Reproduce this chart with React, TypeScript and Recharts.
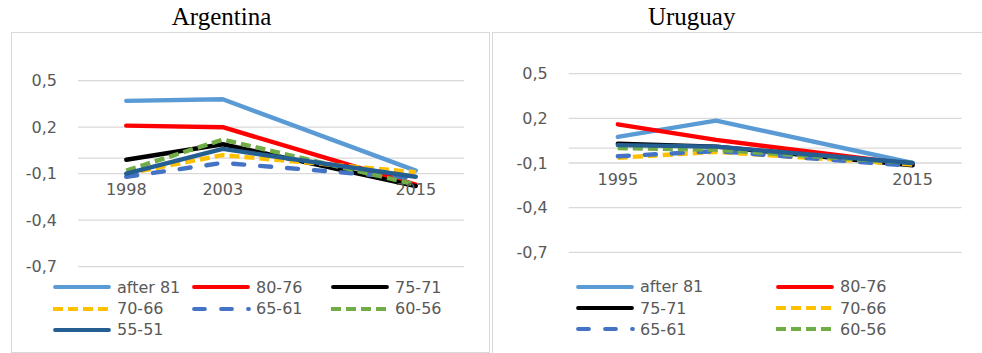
import React from "react";
import {
  LineChart,
  Line,
  XAxis,
  YAxis,
  CartesianGrid,
  ReferenceLine,
  Legend,
} from "recharts";

// Argentina: survey years, the blank slot keeps Excel's spacing between 2003 and 2015
const arYears = ["1998", "2003", "", "2015"];
const arAfter81 = [0.37, 0.38, null, -0.08];
const ar8076 = [0.21, 0.2, null, -0.17];
const ar7571 = [-0.01, 0.09, null, -0.18];
const ar7066 = [-0.1, 0.02, null, -0.09];
const ar6561 = [-0.12, -0.03, null, -0.13];
const ar6056 = [-0.08, 0.12, null, -0.17];
const ar5551 = [-0.1, 0.06, null, -0.12];

// Uruguay
const uyYears = ["1995", "2003", "", "2015"];
const uyAfter81 = [0.075, 0.185, null, -0.1];
const uy8076 = [0.16, 0.055, null, -0.11];
const uy7571 = [0.03, 0.01, null, -0.115];
const uy7066 = [-0.065, -0.025, null, -0.11];
const uy6561 = [-0.055, -0.02, null, -0.12];
const uy6056 = [0.0, -0.01, null, -0.1];
const uy5551 = [0.02, 0.01, null, -0.1];

const yTicks = [-0.7, -0.4, -0.1, 0.2, 0.5];

type SeriesStyle = {
  name: string;
  color: string;
  dash?: string;
  cap: "round" | "butt";
};

const SERIES: SeriesStyle[] = [
  { name: "after 81", color: "#5B9BD5", cap: "round" },
  { name: "80-76", color: "#FF0000", cap: "round" },
  { name: "75-71", color: "#000000", cap: "round" },
  { name: "70-66", color: "#FFC000", dash: "10 5", cap: "butt" },
  { name: "65-61", color: "#4472C4", dash: "11 16", cap: "round" },
  { name: "60-56", color: "#70AD47", dash: "10 5", cap: "butt" },
  { name: "55-51", color: "#255E91", cap: "round" },
];

const FONT = "'DejaVu Sans', sans-serif";
const TEXT_GRAY = "#595959";
const GRID = "#D9D9D9";

function buildRows(years: string[], cols: (number | null)[][]) {
  return years.map((year, i) => {
    const row: Record<string, string | number | null> = { year };
    SERIES.forEach((s, k) => {
      row[s.name] = cols[k][i];
    });
    return row;
  });
}

const arData = buildRows(arYears, [arAfter81, ar8076, ar7571, ar7066, ar6561, ar6056, ar5551]);
const uyData = buildRows(uyYears, [uyAfter81, uy8076, uy7571, uy7066, uy6561, uy6056, uy5551]);

const fmt = (v: number) => v.toFixed(1).replace(".", ",");

const seriesIndex = (name: string) => SERIES.findIndex((s) => s.name === name);

// year labels sit a fixed distance under the zero line, not at the bottom of the plot
function yearTick(plotH: number) {
  const lift = -(plotH * 0.7) / 1.2 + 36.5;
  return (props: any) => (
    <text
      x={props.x}
      y={props.y + lift}
      textAnchor="middle"
      fill={TEXT_GRAY}
      fontSize={16}
      fontFamily={FONT}
    >
      {props.payload.value}
    </text>
  );
}

function LegendGrid({ payload, colWidth, cols, hidden }: any) {
  const items = [...(payload || [])]
    .filter((e: any) => !(hidden || []).includes(e.value))
    .sort((a: any, b: any) => seriesIndex(a.value) - seriesIndex(b.value));
  return (
    <div
      style={{
        display: "grid",
        gridTemplateColumns: `repeat(${cols}, ${colWidth}px)`,
        fontFamily: FONT,
        fontSize: 16,
        color: TEXT_GRAY,
      }}
    >
      {items.map((entry: any) => {
        const s = SERIES[seriesIndex(entry.value)] || SERIES[0];
        const inset = s.cap === "round" ? 2 : 0;
        return (
          <div
            key={entry.value}
            style={{ display: "flex", alignItems: "center", height: 21.35 }}
          >
            <svg width={58} height={8} style={{ overflow: "visible" }}>
              <line
                x1={inset}
                x2={s.dash && s.cap === "round" ? 57 : 58 - inset}
                y1={4}
                y2={4}
                stroke={s.color}
                strokeWidth={3.8}
                strokeDasharray={s.dash}
                strokeLinecap={s.cap}
              />
            </svg>
            <span style={{ marginLeft: 6, lineHeight: "21px", whiteSpace: "nowrap" }}>
              {entry.value}
            </span>
          </div>
        );
      })}
    </div>
  );
}

type PanelProps = {
  data: Record<string, string | number | null>[];
  width: number;
  height: number;
  yAxisWidth: number;
  top: number;
  right: number;
  plotH: number;
  plotW: number;
  legendLeft: number;
  legendTop: number;
  legendCol: number;
  legendCols: number;
  hidden?: string[];
};

function Panel(p: PanelProps) {
  const bottom = p.height - p.top - p.plotH - 30;
  const pad = p.plotW / 8;
  return (
    <LineChart
      width={p.width}
      height={p.height}
      data={p.data}
      margin={{ top: p.top, right: p.right, bottom, left: 0 }}
    >
      <CartesianGrid stroke={GRID} strokeWidth={1.3} vertical={false} />
      <ReferenceLine y={0} stroke={GRID} strokeWidth={1.3} />
      <XAxis
        dataKey="year"
        height={30}
        axisLine={false}
        tickLine={false}
        tickSize={0}
        tickMargin={0}
        interval={0}
        padding={{ left: pad, right: pad }}
        tick={yearTick(p.plotH)}
      />
      <YAxis
        width={p.yAxisWidth}
        domain={[-0.7, 0.5]}
        ticks={yTicks}
        axisLine={false}
        tickLine={false}
        tickSize={0}
        tickMargin={21}
        tickFormatter={fmt}
        tick={{ fill: TEXT_GRAY, fontSize: 16, fontFamily: FONT }}
      />
      <Legend
        layout="horizontal"
        verticalAlign="middle"
        align="center"
        wrapperStyle={{
          left: p.legendLeft,
          top: p.legendTop,
          width: p.legendCol * p.legendCols,
        }}
        content={(props: any) => (
          <LegendGrid
            payload={props.payload}
            colWidth={p.legendCol}
            cols={p.legendCols}
            hidden={p.hidden}
          />
        )}
      />
      {SERIES.map((s) => (
        <Line
          key={s.name}
          type="linear"
          dataKey={s.name}
          stroke={s.color}
          strokeWidth={4.4}
          strokeDasharray={s.dash}
          strokeLinecap={s.cap}
          strokeLinejoin="round"
          dot={false}
          activeDot={false}
          connectNulls
          isAnimationActive={false}
        />
      ))}
    </LineChart>
  );
}

const titleStyle: React.CSSProperties = {
  position: "absolute",
  top: 4,
  width: 200,
  textAlign: "center",
  fontFamily: "'Liberation Serif', serif",
  fontSize: 25,
  lineHeight: "25px",
  color: "#000",
};

export default function App() {
  return (
    <div
      style={{
        position: "absolute",
        left: 0,
        top: 0,
        width: 982,
        height: 353,
        overflow: "hidden",
        background: "#fff",
      }}
    >
      <div style={{ ...titleStyle, left: 121.5 }}>Argentina</div>
      <div style={{ ...titleStyle, left: 591.7 }}>Uruguay</div>

      <div
        style={{
          position: "absolute",
          left: 11,
          top: 32,
          width: 479,
          height: 321,
          boxSizing: "border-box",
          border: `1.5px solid ${GRID}`,
        }}
      />
      <div style={{ position: "absolute", left: 11, top: 32 }}>
        <Panel
          data={arData}
          width={478}
          height={321}
          yAxisWidth={67}
          top={48.7}
          right={25}
          plotH={186}
          plotW={386}
          legendLeft={42}
          legendTop={244.6}
          legendCol={139}
          legendCols={3}
        />
      </div>

      <div
        style={{
          position: "absolute",
          left: 492,
          top: 32,
          width: 494,
          height: 324,
          boxSizing: "border-box",
          border: `1.5px solid ${GRID}`,
        }}
      />
      <div style={{ position: "absolute", left: 492, top: 32 }}>
        <Panel
          data={uyData}
          width={490}
          height={321}
          yAxisWidth={76.7}
          top={41.7}
          right={20.3}
          plotH={178.6}
          plotW={393}
          legendLeft={84}
          legendTop={244}
          legendCol={200}
          legendCols={2}
          hidden={["55-51"]}
        />
      </div>
    </div>
  );
}
